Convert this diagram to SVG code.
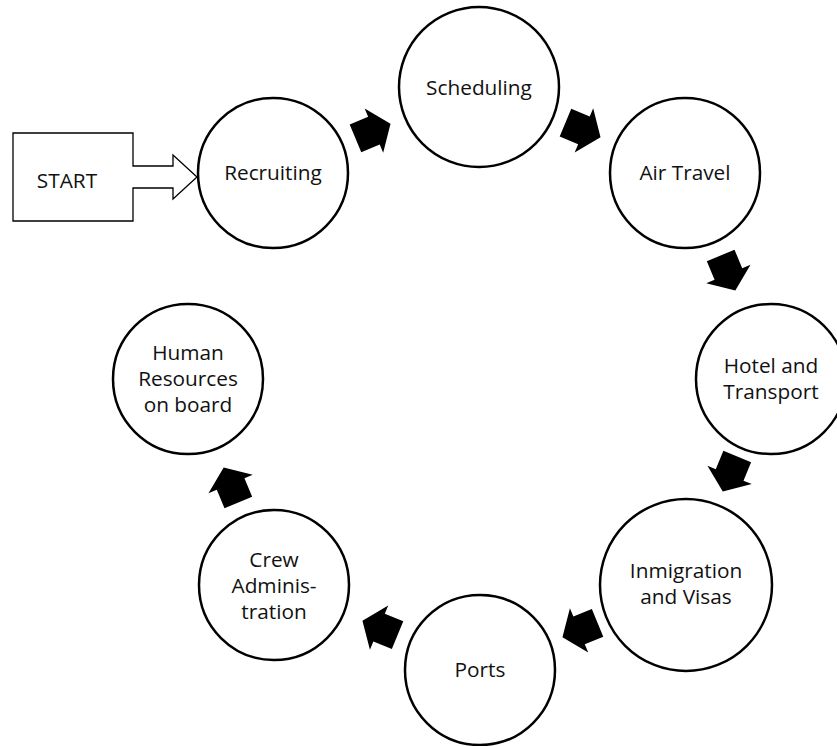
<svg xmlns="http://www.w3.org/2000/svg" width="837" height="746" viewBox="0 0 837 746">
<defs>
<style>
.node circle{fill:#fff;stroke:#000;stroke-width:2.5}
.t{font-family:"Open Sans","Liberation Sans",sans-serif;font-size:20.8px;fill:#111;text-anchor:middle}
.arr{fill:#000}
</style>
<polygon id="blk" points="-19,-15 1,-15 1,-24 19,0 1,24 1,15 -19,15"/>
</defs>
<rect width="837" height="746" fill="#fff"/>
<g id="start">
<path d="M13,133 H133 V166 H173 V155 L197,177 L173,199 V188 H133 V221 H13 Z" fill="#fff" stroke="#000" stroke-width="1.3"/>
<text class="t" x="67" y="188">START</text>
</g>
<g id="recruiting" class="node"><circle cx="273" cy="173" r="75"/><text class="t" x="273" y="180">Recruiting</text></g>
<g id="scheduling" class="node"><circle cx="479" cy="87" r="80"/><text class="t" x="479" y="95">Scheduling</text></g>
<g id="airtravel" class="node"><circle cx="685" cy="173" r="75"/><text class="t" x="685" y="180">Air Travel</text></g>
<g id="hotel" class="node"><circle cx="771" cy="379" r="75"/><text class="t" x="771" y="373">Hotel and</text><text class="t" x="771" y="399">Transport</text></g>
<g id="inmigration" class="node"><circle cx="686" cy="585" r="86"/><text class="t" x="686" y="578">Inmigration</text><text class="t" x="686" y="604">and Visas</text></g>
<g id="ports" class="node"><circle cx="480" cy="670" r="75"/><text class="t" x="480" y="677">Ports</text></g>
<g id="crew" class="node"><circle cx="274" cy="585" r="75"/><text class="t" x="274" y="567">Crew</text><text class="t" x="274" y="593">Adminis-</text><text class="t" x="274" y="619">tration</text></g>
<g id="hr" class="node"><circle cx="188" cy="379" r="75"/><text class="t" x="188" y="360">Human</text><text class="t" x="188" y="386">Resources</text><text class="t" x="188" y="412">on board</text></g>
<g id="connectors" class="arr">
<use href="#blk" transform="translate(373,131) rotate(-22.7)"/>
<use href="#blk" transform="translate(583,130) rotate(22.7)"/>
<use href="#blk" transform="translate(728,273) rotate(67.3)"/>
<use href="#blk" transform="translate(730,474) rotate(112.4)"/>
<use href="#blk" transform="translate(580,630) rotate(157.6)"/>
<use href="#blk" transform="translate(380,628) rotate(202.4)"/>
<use href="#blk" transform="translate(231,485) rotate(247.3)"/>
</g>
</svg>
